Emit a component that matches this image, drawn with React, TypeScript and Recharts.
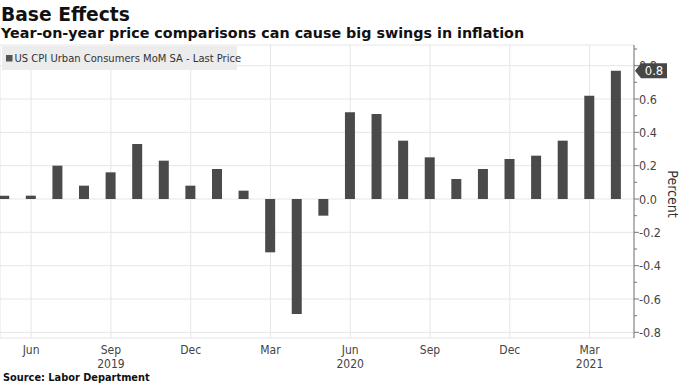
import { BarChart, Bar, XAxis, YAxis, CartesianGrid, ReferenceLine } from "recharts";

// monthly readings, May 2019 .. Apr 2021
const MONTHS = [
  "2019-05", "2019-06", "2019-07", "2019-08", "2019-09", "2019-10",
  "2019-11", "2019-12", "2020-01", "2020-02", "2020-03", "2020-04",
  "2020-05", "2020-06", "2020-07", "2020-08", "2020-09", "2020-10",
  "2020-11", "2020-12", "2021-01", "2021-02", "2021-03", "2021-04",
];
const CPI_MOM = [
  0.02, 0.02, 0.2, 0.08, 0.16, 0.33, 0.23, 0.08, 0.18, 0.05, -0.32, -0.69,
  -0.1, 0.52, 0.51, 0.35, 0.25, 0.12, 0.18, 0.24, 0.26, 0.35, 0.62, 0.77,
];
const MONTH_TICKS = [1, 4, 7, 10, 13, 16, 19, 22];
const MONTH_TICK_LABELS = ["Jun", "Sep", "Dec", "Mar", "Jun", "Sep", "Dec", "Mar"];
const YEAR_TICK_LABELS = ["", "2019", "", "", "2020", "", "", "2021"];
const MAJOR_TICKS = [-0.8, -0.6, -0.4, -0.2, 0, 0.2, 0.4, 0.6, 0.8];
const Y_TICKS = [-0.8, -0.7, -0.6, -0.5, -0.4, -0.3, -0.2, -0.1, 0, 0.1, 0.2, 0.3, 0.4, 0.5, 0.6, 0.7, 0.8, 0.9];
const Y_DOMAIN = [-0.834, 0.924];

const data = CPI_MOM.map((v, i) => ({ i, month: MONTHS[i], value: v }));

const AXIS_FONT = "'DejaVu Sans Condensed', 'DejaVu Sans', sans-serif";
const HEAD_FONT = "'DejaVu Sans', Verdana, sans-serif";
const BAR_COLOR = "#4a4a4a";
const TEXT = "#444";

function MonthTick({ x, y, payload }: any) {
  const k = MONTH_TICKS.indexOf(payload.value);
  return (
    <g fontFamily={AXIS_FONT} fontSize={12} fill={TEXT}>
      <text x={x} y={y} dy={15.5} textAnchor="middle">{MONTH_TICK_LABELS[k]}</text>
      <text x={x} y={y} dy={30} textAnchor="middle">{YEAR_TICK_LABELS[k]}</text>
    </g>
  );
}

function PercentTick({ x, y, payload }: any) {
  const v = payload.value;
  const major = Math.abs(Math.round(v * 10)) % 2 === 0;
  return (
    <g>
      <line x1={x} x2={x + (major ? 5 : 3)} y1={y} y2={y} stroke="#777" />
      {major && (
        <text x={x + 5} y={y} dy={4.5} fontFamily={AXIS_FONT} fontSize={12.5} fill={TEXT}>
          {v.toFixed(1)}
        </text>
      )}
    </g>
  );
}

function LastTag(props: any) {
  const vb = props.viewBox;
  const x = vb.x + vb.width + 1;
  const y = vb.y;
  return (
    <g>
      <polygon
        points={`${x},${y} ${x + 6},${y - 7.5} ${x + 32},${y - 7.5} ${x + 32},${y + 7.5} ${x + 6},${y + 7.5}`}
        fill="#474747"
      />
      <text x={x + 19} y={y} dy={4.5} textAnchor="middle" fontFamily={AXIS_FONT} fontSize={13} fill="#fff">
        {CPI_MOM[CPI_MOM.length - 1].toFixed(1)}
      </text>
    </g>
  );
}

export default function App() {
  return (
    <div style={{ position: "relative", width: 683, height: 384, background: "#fff", overflow: "hidden" }}>
      <style>{`body{margin:0}`}</style>
      <BarChart width={683} height={384} data={data} margin={{ top: 45, right: 0, bottom: 16, left: 0 }}>
        <CartesianGrid stroke="#e6e6e6" yAxisId="grid" />
        <XAxis
          dataKey="i"
          type="number"
          domain={[-0.17, 23.67]}
          ticks={MONTH_TICKS}
          interval={0}
          allowDataOverflow
          axisLine={false}
          tickLine={false}
          tickSize={0}
          tickMargin={0}
          height={30}
          tick={<MonthTick />}
        />
        <YAxis yAxisId="grid" hide type="number" domain={Y_DOMAIN} ticks={MAJOR_TICKS} interval={0} allowDataOverflow />
        <YAxis
          yAxisId="main"
          orientation="right"
          type="number"
          domain={Y_DOMAIN}
          ticks={Y_TICKS}
          interval={0}
          allowDataOverflow
          width={49}
          axisLine={{ stroke: "#777" }}
          tickLine={false}
          tickSize={0}
          tickMargin={0}
          tick={<PercentTick />}
        />
        <Bar yAxisId="main" dataKey="value" fill={BAR_COLOR} barSize={10} isAnimationActive={false} />
        <ReferenceLine
          yAxisId="main"
          y={CPI_MOM[CPI_MOM.length - 1]}
          stroke="none"
          ifOverflow="visible"
          label={(p: any) => <LastTag {...p} />}
        />
      </BarChart>
      <svg width={683} height={384} style={{ position: "absolute", left: 0, top: 0, pointerEvents: "none" }}>
        <text x={1} y={21} fontFamily={HEAD_FONT} fontWeight={700} fontSize={18.7} fill="#111">
          Base Effects
        </text>
        <text x={1} y={37.5} fontFamily={HEAD_FONT} fontWeight={700} fontSize={14.3} fill="#111">
          Year-on-year price comparisons can cause big swings in inflation
        </text>
        <rect x={2} y={46} width={235} height={24} fill="#ececec" />
        <rect x={6} y={55} width={6.5} height={6.5} fill="#555" />
        <text x={14.5} y={62} fontFamily={AXIS_FONT} fontSize={11.1} fill="#333">
          US CPI Urban Consumers MoM SA - Last Price
        </text>
        <text
          transform="translate(668,194) rotate(90)"
          textAnchor="middle"
          fontFamily={AXIS_FONT}
          fontSize={14}
          fill="#333"
        >
          Percent
        </text>
        <text x={3} y={381} fontFamily={HEAD_FONT} fontWeight={700} fontSize={9.8} fill="#111">
          Source: Labor Department
        </text>
      </svg>
    </div>
  );
}
